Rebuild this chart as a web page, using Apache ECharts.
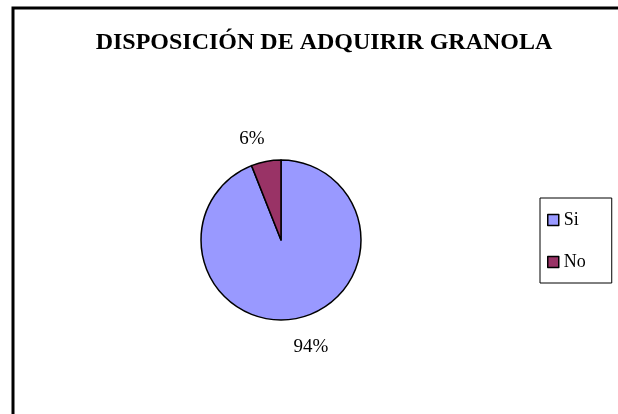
<!DOCTYPE html>
<html>
<head>
<meta charset="utf-8">
<script src="https://cdn.jsdelivr.net/npm/echarts@6/dist/echarts.min.js"></script>
<style>
  html, body { margin: 0; padding: 0; background: #fff; }
  #chart { width: 618px; height: 414px; }
</style>
</head>
<body>
<div id="chart"></div>
<script>
// datos del grafico
var categorias = ['Si', 'No'];
var valores = [94, 6];
var colores = ['#9999FF', '#993366'];
var titulo = 'DISPOSICIÓN DE ADQUIRIR GRANOLA';

var serif = '"Liberation Serif", "Times New Roman", serif';

var chart = echarts.init(document.getElementById('chart'));

// largo de la linea (invisible) que ubica cada etiqueta, y corrimiento horizontal
var largos = [29, 23];
var corrimientos = [-13, 8];

var datos = categorias.map(function (c, i) {
  return {
    name: c,
    value: valores[i],
    itemStyle: { color: colores[i] },
    labelLine: { show: false, length: largos[i], length2: 0 }
  };
});

chart.setOption({
  animation: false,
  backgroundColor: '#fff',
  title: {
    text: titulo,
    left: 319,
    top: 26,
    textAlign: 'center',
    textStyle: { fontFamily: serif, fontSize: 24, fontWeight: 'bold', color: '#000' }
  },
  legend: {
    orient: 'vertical',
    left: 540,
    top: 198,
    padding: [13, 26, 12, 7],
    itemGap: 24,
    itemWidth: 11,
    itemHeight: 11,
    icon: 'rect',
    borderColor: '#000',
    borderWidth: 1,
    data: categorias,
    itemStyle: { borderColor: '#000', borderWidth: 1.5 },
    textStyle: { fontFamily: serif, fontSize: 18, color: '#000' }
  },
  graphic: [
    {
      type: 'rect',
      shape: { x: 13, y: 8, width: 800, height: 600 },
      style: { fill: 'none', stroke: '#000', lineWidth: 3 },
      silent: true
    }
  ],
  series: [
    {
      name: 'Disposición',
      type: 'pie',
      center: [281, 240],
      radius: 80,
      startAngle: 90,
      clockwise: true,
      itemStyle: { borderColor: '#000', borderWidth: 1.5 },
      label: {
        show: true,
        position: 'outside',
        formatter: '{d}%',
        fontFamily: serif,
        fontSize: 19,
        color: '#000'
      },
      labelLine: { show: false },
      labelLayout: function (p) {
        return { dx: corrimientos[p.dataIndex] };
      },
      emphasis: { disabled: true },
      data: datos
    }
  ]
});
</script>
</body>
</html>
